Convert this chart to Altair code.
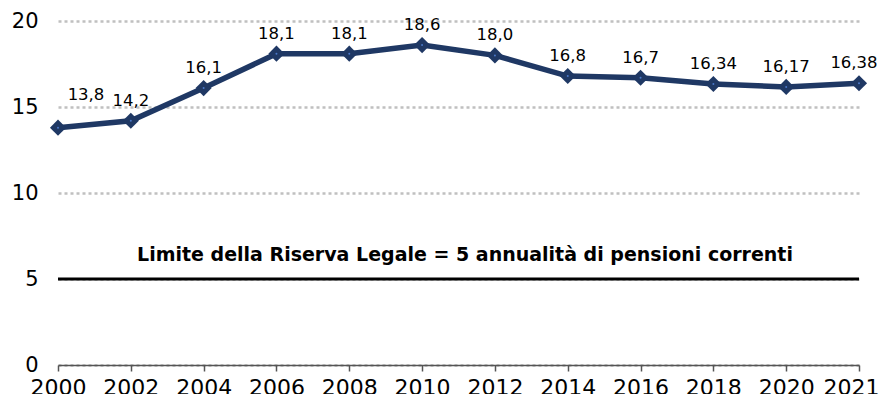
import altair as alt
import pandas as pd

years = ["2000", "2002", "2004", "2006", "2008", "2010", "2012", "2014", "2016", "2018", "2020", "2021"]
values = [13.8, 14.2, 16.1, 18.1, 18.1, 18.6, 18.0, 16.8, 16.7, 16.34, 16.17, 16.38]
labels = ["13,8", "14,2", "16,1", "18,1", "18,1", "18,6", "18,0", "16,8", "16,7", "16,34", "16,17", "16,38"]
limit_value = 5
limit_text = "Limite della Riserva Legale = 5 annualità di pensioni correnti"

df = pd.DataFrame({"year": years, "value": values, "label": labels})

FONT = "DejaVu Sans"
NAVY = "#1f3864"

x_enc = alt.X("year:O", sort=years, scale=alt.Scale(type="point", padding=0),
              axis=alt.Axis(title=None, labelAngle=0, labelFontSize=22, labelColor="#000000",
                            labelFont=FONT, domainColor="#555555", domainWidth=1.5,
                            tickColor="#555555", tickSize=6, tickWidth=1.5, labelPadding=6,
                            labelOffset=alt.expr("datum.value == '2021' ? -8 : 0"),
                            grid=False, zindex=1))
y_enc = alt.Y("value:Q", scale=alt.Scale(domain=[0, 20], nice=False),
              axis=alt.Axis(title=None, values=[0, 5, 10, 15, 20], labelFontSize=21,
                            labelColor="#000000", labelFont=FONT, domain=False, ticks=False,
                            labelPadding=20, grid=True, gridColor="#c0c0c0", gridWidth=2.5,
                            gridDash=[3, 3]))

base = alt.Chart(df)

line = base.mark_line(color=NAVY, strokeWidth=5.5).encode(x=x_enc, y=y_enc)
pts = base.mark_point(shape="diamond", filled=True, size=260, color=NAVY, opacity=1).encode(
    x="year:O", y="value:Q")
dots = base.mark_point(shape="circle", filled=True, size=4, color="#4a78c8", opacity=1).encode(
    x="year:O", y="value:Q")

lab_main = base.transform_filter(
    (alt.datum.year != "2000") & (alt.datum.year != "2021")).mark_text(
    font=FONT, fontSize=16.5, color="#000000", dy=-20).encode(
    x="year:O", y="value:Q", text="label:N")
lab_first = base.transform_filter(alt.datum.year == "2000").mark_text(
    font=FONT, fontSize=16.5, color="#000000", dx=28, dy=-33).encode(
    x="year:O", y="value:Q", text="label:N")
lab_last = base.transform_filter(alt.datum.year == "2021").mark_text(
    font=FONT, fontSize=16.5, color="#000000", dx=-5, dy=-20).encode(
    x="year:O", y="value:Q", text="label:N")

limit_df = pd.DataFrame({"v": [limit_value], "t": [limit_text]})
rule = alt.Chart(limit_df).mark_rule(color="#000000", strokeWidth=3).encode(y="v:Q")
ann = alt.Chart(limit_df).mark_text(font=FONT, fontSize=19, fontWeight="bold", color="#000000",
                                    dy=-24).encode(y="v:Q", x=alt.value(407), text="t:N")

chart = alt.layer(rule, ann, line, pts, dots, lab_main, lab_first, lab_last).properties(
    width=801, height=344,
    autosize=alt.AutoSizeParams(type="none"),
    padding={"left": 50, "top": 13, "right": 20, "bottom": 29},
).configure(background="#ffffff").configure_view(stroke=None).configure_axisX(grid=False)

chart.save("out.html", embed_options={"renderer": "svg", "actions": False})
